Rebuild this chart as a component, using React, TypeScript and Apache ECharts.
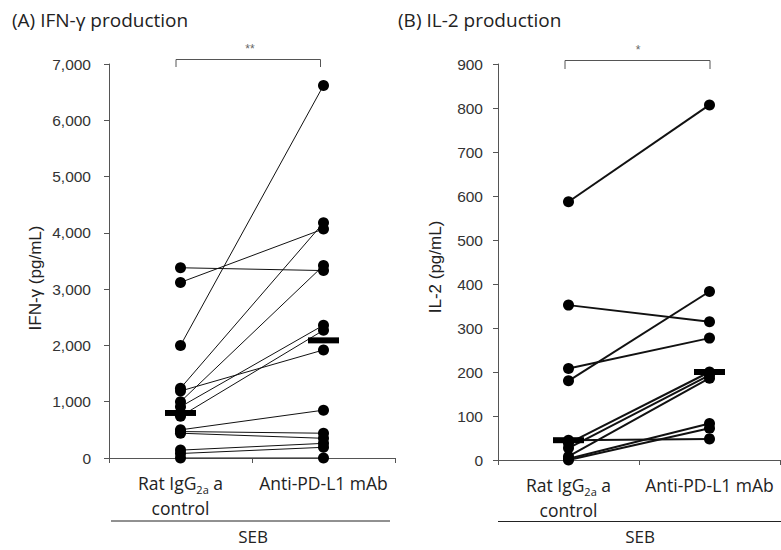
import React, { useEffect, useRef } from 'react';
import * as echarts from 'echarts';

const categories = ['Rat IgG2a control', 'Anti-PD-L1 mAb'];

const ifnRat = [3380, 3120, 2000, 1240, 1190, 1000, 910, 740, 500, 470, 440, 140, 80, 0];
const ifnAnti = [3330, 4070, 6620, 4180, 1920, 3420, 2360, 2270, 850, 440, 350, 260, 190, 0];
const ifnMedian = [800, 2090];

const il2Rat = [587, 352, 208, 180, 45, 38, 27, 8, 3, 0];
const il2Anti = [807, 314, 277, 383, 48, 200, 193, 186, 83, 72];
const il2Median = [45, 200];

const ifnTicks = { min: 0, max: 7000, interval: 1000 };
const il2Ticks = { min: 0, max: 900, interval: 100 };

const FONT_TXT = 'Open Sans';
const FONT_AX = 'Liberation Sans';

export default function App() {
  const ref = useRef<HTMLDivElement>(null);
  useEffect(() => {
    if (!ref.current) return;
    const chart = echarts.init(ref.current, null, { renderer: 'svg' });

    const pairSeries = (rat: number[], anti: number[], idx: number, lw: number) =>
      rat.map((r, i) => ({
        type: 'line',
        xAxisIndex: idx,
        yAxisIndex: idx,
        data: [r, anti[i]],
        symbol: 'circle',
        symbolSize: 11,
        itemStyle: { color: '#000', opacity: 1 },
        lineStyle: { color: '#111', width: lw },
        z: 3,
      }));

    const medianSeries = (med: number[], idx: number) => ({
      type: 'scatter',
      xAxisIndex: idx,
      yAxisIndex: idx,
      data: med,
      symbol: 'rect',
      symbolSize: [31, 6],
      itemStyle: { color: '#000', opacity: 1 },
      z: 5,
    });

    const xAxisBase = (gridIndex: number) => ({
      type: 'category',
      gridIndex,
      data: categories,
      boundaryGap: true,
      axisLine: { lineStyle: { color: '#555', width: 1 } },
      axisTick: { show: true, length: 5, lineStyle: { color: '#555' } },
      axisLabel: {
        margin: 12,
        interval: 0,
        formatter: (v: string) =>
          v.startsWith('Rat') ? '{m|Rat IgG}{sub|2a}{m| a}\n{m|control}' : '{m|Anti-PD-L1 mAb}',
        rich: {
          m: { fontFamily: FONT_TXT, fontSize: 17.5, color: '#222', lineHeight: 25 },
          sub: { fontFamily: FONT_TXT, fontSize: 11, color: '#222', lineHeight: 25, verticalAlign: 'bottom', padding: [8, 0, 0, 0] },
        },
      },
    });

    const yAxisBase = (gridIndex: number, t: { min: number; max: number; interval: number }, margin: number) => ({
      type: 'value',
      gridIndex,
      min: t.min,
      max: t.max,
      interval: t.interval,
      splitLine: { show: false },
      axisLine: { show: true, lineStyle: { color: '#555', width: 1 } },
      axisTick: { show: true, length: 5, lineStyle: { color: '#555' } },
      axisLabel: {
        margin,
        fontFamily: FONT_AX,
        fontSize: 15.5,
        color: '#333',
        formatter: (v: number) => v.toLocaleString('en-US'),
      },
    });

    const line = (x1: number, y1: number, x2: number, y2: number, color = '#333', w = 1) => ({
      type: 'line',
      shape: { x1, y1, x2, y2 },
      style: { stroke: color, lineWidth: w },
    });
    const text = (x: number, y: number, t: string, size: number, opts: any = {}) => ({
      type: 'text',
      x,
      y,
      rotation: opts.rotation || 0,
      style: {
        text: t,
        fontFamily: opts.font || FONT_TXT,
        fontSize: size,
        fill: opts.color || '#222',
        textAlign: opts.align || 'left',
        textVerticalAlign: 'middle',
      },
    });

    chart.setOption({
      animation: false,
      grid: [
        { left: 109, right: 386, top: 64, bottom: 92 },
        { left: 498, right: 1, top: 64, bottom: 90 },
      ],
      xAxis: [xAxisBase(0), xAxisBase(1)],
      yAxis: [yAxisBase(0, ifnTicks, 18), yAxisBase(1, il2Ticks, 15)],
      series: [
        ...pairSeries(ifnRat, ifnAnti, 0, 1),
        medianSeries(ifnMedian, 0),
        ...pairSeries(il2Rat, il2Anti, 1, 2),
        medianSeries(il2Median, 1),
      ],
      graphic: [
        text(12, 20, '(A) IFN-γ production', 19),
        text(398, 20, '(B) IL-2 production', 19),
        text(35, 278, 'IFN-γ (pg/mL)', 17, { rotation: Math.PI / 2, align: 'center', font: FONT_AX }),
        text(435, 267, 'IL-2 (pg/mL)', 17, { rotation: Math.PI / 2, align: 'center', font: FONT_AX }),
        // brackets
        line(176, 59.5, 320.5, 59.5, '#555'),
        line(176, 59.5, 176, 67, '#555'),
        line(320.5, 59.5, 320.5, 67, '#555'),
        text(250, 49, '**', 12, { align: 'center', color: '#666', font: FONT_AX }),
        line(565, 60.5, 710, 60.5, '#555'),
        line(565, 60.5, 565, 69, '#555'),
        line(710, 60.5, 710, 69, '#555'),
        text(638, 50, '*', 12, { align: 'center', color: '#666', font: FONT_AX }),
        // SEB
        line(111, 521, 390, 521, '#222'),
        line(498, 521.5, 781, 521.5, '#222'),
        text(253, 536, 'SEB', 17, { align: 'center' }),
        text(640, 536, 'SEB', 17, { align: 'center' }),
      ],
    });
    return () => chart.dispose();
  }, []);
  return <div ref={ref} style={{ position: 'fixed', left: 0, top: 0, width: 781, height: 550, background: '#fff' }} />;
}
